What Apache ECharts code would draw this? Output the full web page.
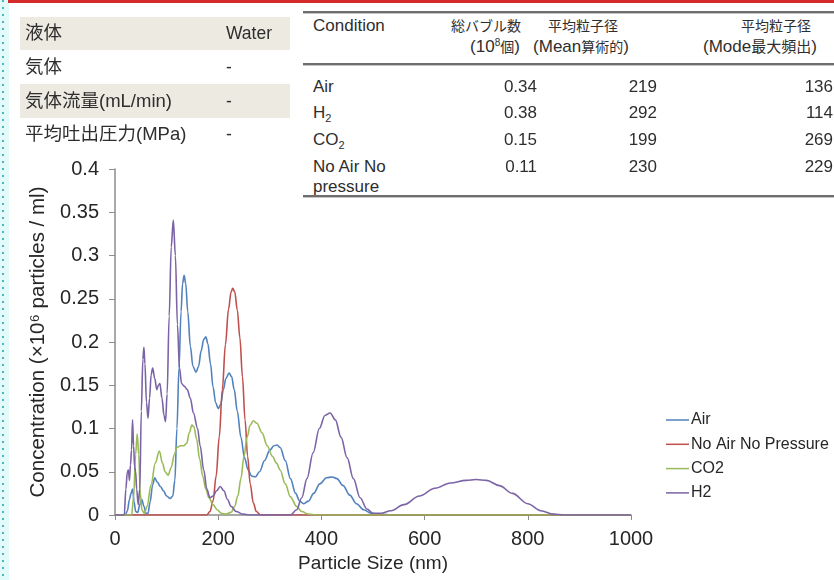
<!DOCTYPE html>
<html><head><meta charset="utf-8">
<script src="https://cdn.jsdelivr.net/npm/echarts@6/dist/echarts.min.js"></script>
<style>
body{margin:0;background:#fff;}
#wrap{position:relative;width:834px;height:580px;overflow:hidden;background:#fff;font-family:"Liberation Sans","Noto Sans CJK JP",Arial,sans-serif;color:#2e2e2e;}
#chart{position:absolute;left:0;top:0;width:834px;height:580px;}
.t{position:absolute;white-space:nowrap;line-height:20px;height:20px;}
.sub{font-size:11px;position:relative;top:4px;}
.sup{font-size:10px;position:relative;top:-6px;}
.cj{font-size:14px;}
.cj2{font-size:15px;}
</style></head>
<body><div id="wrap"><div id="chart"></div></div>
<script>
// ---- chart data ----
const xTickLabels = ['0','200','400','600','800','1000'];
const yTickLabels = ['0','0.05','0.1','0.15','0.2','0.25','0.3','0.35','0.4'];
const seriesNames = ['Air','No Air No Pressure','CO2','H2'];
const seriesColors = ['#5282bd','#c0504d','#9bbb59','#7b64a6'];

const airData = [[0,0],[20,0],[24,0.005],[28,0.018],[31,0.025],[34,0.03],[37,0.015],[40,0.004],[44,0.003],[48,0.012],[52,0.018],[56,0.01],[60,0.002],[64,0.002],[68,0.015],[73,0.035],[77,0.043],[82,0.038],[88,0.033],[94,0.028],[100,0.022],[107,0.019],[112,0.022],[116,0.04],[120,0.1],[124,0.17],[128,0.235],[131,0.268],[134,0.277],[137,0.268],[141,0.235],[146,0.195],[151,0.172],[157,0.165],[162,0.172],[167,0.19],[172,0.203],[176,0.206],[180,0.198],[185,0.175],[190,0.148],[195,0.13],[200,0.123],[205,0.128],[210,0.145],[215,0.158],[221,0.164],[226,0.16],[231,0.145],[237,0.12],[244,0.09],[251,0.066],[258,0.052],[265,0.045],[272,0.044],[280,0.05],[290,0.063],[300,0.075],[308,0.08],[314,0.081],[320,0.078],[330,0.063],[340,0.042],[350,0.025],[358,0.016],[366,0.013],[375,0.016],[385,0.025],[397,0.036],[410,0.043],[421,0.044],[430,0.042],[442,0.034],[455,0.023],[468,0.013],[482,0.006],[497,0.002],[515,0.001],[535,0],[1000,0]];

const noAirData = [[0,0],[178,0],[184,0.004],[190,0.016],[196,0.045],[202,0.09],[208,0.145],[214,0.197],[220,0.238],[225,0.258],[228,0.262],[232,0.258],[237,0.237],[242,0.205],[247,0.16],[252,0.11],[257,0.068],[262,0.036],[268,0.014],[274,0.004],[282,0],[1000,0]];

const co2Data = [[0,0],[32,0],[36,0.02],[40,0.07],[43,0.094],[46,0.07],[49,0.025],[52,0.006],[57,0.002],[62,0.01],[70,0.035],[78,0.06],[86,0.074],[92,0.06],[97,0.05],[103,0.046],[109,0.055],[115,0.07],[120,0.078],[127,0.08],[133,0.08],[139,0.083],[144,0.095],[149,0.104],[153,0.102],[158,0.088],[164,0.065],[170,0.045],[176,0.03],[182,0.02],[190,0.012],[198,0.006],[206,0.002],[215,0.001],[225,0.003],[232,0.01],[238,0.022],[244,0.042],[250,0.068],[256,0.09],[262,0.104],[268,0.109],[275,0.106],[285,0.095],[295,0.08],[305,0.068],[313,0.06],[320,0.052],[330,0.036],[340,0.021],[352,0.01],[362,0.004],[375,0.001],[390,0],[1000,0]];

const h2Data = [[0,0],[18,0],[21,0.03],[24,0.05],[26,0.052],[28,0.04],[30,0.058],[32,0.075],[34,0.11],[36,0.08],[38,0.056],[40,0.05],[42,0.03],[45,0.012],[48,0.03],[51,0.12],[54,0.18],[56,0.194],[58,0.175],[61,0.13],[64,0.112],[67,0.135],[70,0.162],[73,0.17],[77,0.158],[81,0.145],[84,0.15],[87,0.152],[91,0.135],[95,0.115],[98,0.108],[101,0.14],[105,0.23],[109,0.31],[113,0.341],[117,0.3],[121,0.22],[125,0.17],[129,0.152],[134,0.149],[140,0.145],[146,0.135],[152,0.118],[160,0.1],[165,0.08],[172,0.052],[178,0.03],[184,0.02],[190,0.022],[197,0.028],[204,0.033],[211,0.028],[218,0.018],[225,0.01],[235,0.004],[248,0.001],[260,0],[340,0],[352,0.006],[362,0.02],[372,0.042],[384,0.072],[396,0.1],[407,0.115],[417,0.118],[427,0.11],[438,0.09],[450,0.066],[462,0.042],[475,0.02],[488,0.007],[500,0.002],[515,0.002],[535,0.005],[560,0.012],[590,0.022],[620,0.031],[650,0.037],[680,0.04],[700,0.041],[720,0.04],[745,0.034],[770,0.025],[800,0.013],[825,0.005],[850,0.001],[870,0],[1000,0]];

const allSeriesData = [airData, noAirData, co2Data, h2Data];

// ---- table data ----
const leftLabels = ['液体','気体','気体流量(mL/min)','平均吐出圧力(MPa)'];
const leftValues = ['Water','-','-','-'];
const conditions = ['Air','H<span class="sub">2</span>','CO<span class="sub">2</span>','No Air No','pressure'];
const totalCounts = ['0.34','0.38','0.15','0.11'];
const meanSizes = ['219','292','199','230'];
const modeSizes = ['136','114','269','229'];
const headTop = ['Condition','総バブル数','平均粒子径','平均粒子径'];
const headBottom = ['','(10<span class="sup">8</span>個)','(Mean算術的)','(Mode最大頻出)'];

const chart = echarts.init(document.getElementById('chart'));
const axisColor = '#8c8c8c';
const txt = '#262626';
chart.setOption({
  animation: false,
  textStyle: {fontFamily: 'Liberation Sans, Arial, sans-serif'},
  grid: {left: 115, right: 203, top: 169, bottom: 65},
  xAxis: {
    type: 'value', min: 0, max: 1000, interval: 200,
    name: 'Particle Size (nm)', nameLocation: 'middle', nameGap: 37,
    nameTextStyle: {fontSize: 19, color: txt},
    axisLine: {show: true, lineStyle: {color: axisColor, width: 1.5}},
    axisTick: {show: true, length: 5, lineStyle: {color: axisColor}},
    axisLabel: {fontSize: 20, color: txt, margin: 14, formatter: v => xTickLabels[Math.round(v / 200)]},
    splitLine: {show: false}
  },
  yAxis: {
    type: 'value', min: 0, max: 0.4, interval: 0.05,
    name: 'Concentration (×10⁶ particles / ml)', nameLocation: 'middle', nameGap: 62,
    nameTextStyle: {fontSize: 20.5, color: txt},
    axisLine: {show: true, lineStyle: {color: axisColor, width: 1.5}},
    axisTick: {show: true, length: 6, lineStyle: {color: axisColor}},
    axisLabel: {fontSize: 20, color: txt, margin: 16, formatter: v => yTickLabels[Math.round(v / 0.05)]},
    splitLine: {show: false}
  },
  legend: {
    data: seriesNames, orient: 'vertical', left: 661, top: 407,
    icon: 'rect', itemWidth: 23, itemHeight: 1.5, itemGap: 8.3,
    textStyle: {fontSize: 16, color: txt, lineHeight: 16, padding: [0, 0, 0, -3]}
  },
  series: seriesNames.map((n, i) => ({
    name: n, type: 'line', data: allSeriesData[i],
    symbol: 'none', showSymbol: false, smooth: 0.35, smoothMonotone: 'x',
    lineStyle: {width: 1.6, color: seriesColors[i]}, itemStyle: {color: seriesColors[i]}
  }))
});

// ---- overlays (tables, frame) ----
const wrap = document.getElementById('wrap');
function box(l, t, w, h, css) {
  const d = document.createElement('div');
  d.style.cssText = `position:absolute;left:${l}px;top:${t}px;width:${w}px;height:${h}px;` + (css || '');
  wrap.appendChild(d); return d;
}
function cjk(s, cls) { return s.replace(/([\u3000-\u9fff]+)/g, `<span class="${cls || 'cj'}">$1</span>`); }
function place(html, x, y, align, size) {
  const d = document.createElement('div');
  d.className = 't';
  d.innerHTML = html;
  let css = `top:${y - 10}px;font-size:${size}px;`;
  if (align === 'l') css += `left:${x}px;`;
  else if (align === 'r') css += `left:${x - 300}px;width:300px;text-align:right;`;
  else css += `left:${x - 150}px;width:300px;text-align:center;`;
  d.style.cssText += css;
  wrap.appendChild(d);
}
// left frame strip
box(0, 0, 9, 580, 'background:#e2fafa;');
box(2, 0, 2, 580, 'background:repeating-linear-gradient(to bottom,#4cb5b5 0 2px,transparent 2px 7px);');
// left table
box(20, 17, 270, 33, 'background:#edeae2;');
box(20, 84, 270, 34, 'background:#edeae2;');
const leftY = [33, 67, 101, 134];
leftLabels.forEach((s, i) => { place(s, 25, leftY[i], 'l', 18.5); place(leftValues[i], 226, leftY[i], 'l', 17.5); });
// right table
box(303, 3, 531, 195, 'background:#fff;');
const rule = 'background:linear-gradient(#6e6e6e 0 2px,#c4c4c4 2px 3px);';
box(303, 11, 531, 3, rule);
box(303, 63, 531, 3, rule);
box(303, 195, 531, 3, rule);
place(headTop[0], 313, 26, 'l', 17);
place(cjk(headTop[1]), 486, 26, 'c', 17);
place(cjk(headBottom[1]), 495, 47, 'c', 17);
place(cjk(headTop[2]), 583, 26, 'c', 17);
place(cjk(headBottom[2]), 581, 47, 'c', 17);
place(cjk(headTop[3]), 776, 26, 'c', 17);
place(cjk(headBottom[3], 'cj2'), 703, 47, 'l', 17);
const rowY = [87, 113, 140, 167];
conditions.forEach((s, i) => place(s, 313, i < 4 ? rowY[i] : 187, 'l', 17));
totalCounts.forEach((s, i) => place(s, 537, rowY[i], 'r', 17));
meanSizes.forEach((s, i) => place(s, 657, rowY[i], 'r', 17));
modeSizes.forEach((s, i) => place(s, 833, rowY[i], 'r', 17));
// red top line
box(8, 0, 826, 3, 'background:#d42a2a;');
</script>
</body></html>
